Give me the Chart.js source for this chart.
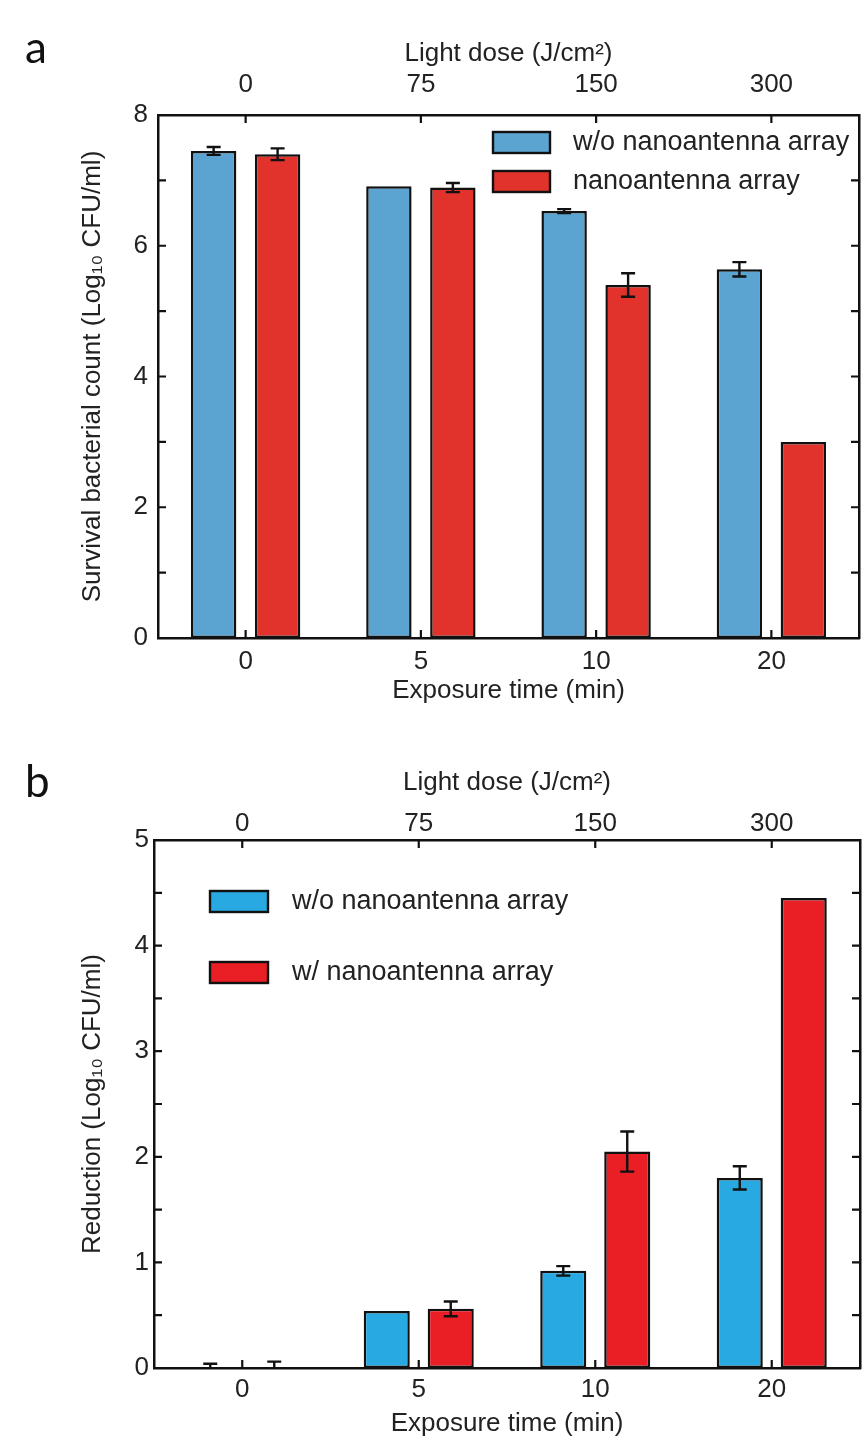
<!DOCTYPE html>
<html>
<head>
<meta charset="utf-8">
<script src="https://cdn.jsdelivr.net/npm/chart.js@4.4.1/dist/chart.umd.min.js"></script>
<style>
  html, body { margin: 0; padding: 0; background: #fff; }
  body { width: 867px; height: 1448px; position: relative; overflow: hidden; }
  .panel { position: absolute; left: 0; width: 867px; }
  #wrapA { top: 0; height: 730px; }
  #wrapB { top: 730px; height: 718px; }
  .letter { position: absolute; font-family: Lato, sans-serif; font-size: 44px; line-height: 44px; color: #111; }
</style>
</head>
<body>
<div class="panel" id="wrapA"><canvas id="chartA" width="867" height="730"></canvas></div>
<div class="panel" id="wrapB"><canvas id="chartB" width="867" height="718"></canvas></div>
<div class="letter" style="left:25px;top:24px">a</div>
<div class="letter" style="left:25px;top:758px">b</div>
<script>
const timeLabels = ['0', '5', '10', '20'];
const doseLabels = ['0', '75', '150', '300'];

// panel a: survival count
const survivalWithout = [7.45, 6.91, 6.53, 5.64];
const survivalWithoutErr = [0.06, 0, 0.03, 0.11];
const survivalWith = [7.40, 6.89, 5.40, 3.0];
const survivalWithErr = [0.09, 0.07, 0.18, 0];

// panel b: reduction
const reductionWithout = [0, 0.54, 0.92, 1.80];
const reductionWithoutErr = [0.04, 0, 0.045, 0.11];
const reductionWith = [0, 0.56, 2.05, 4.45];
const reductionWithErr = [0.06, 0.07, 0.19, 0];

const FONT = "'Liberation Sans', Arial, sans-serif";
const INK = '#111';
const TEXT = '#222';

const errorBarPlugin = {
  id: 'errorBars',
  afterDatasetsDraw(chart) {
    const {ctx, chartArea: a} = chart;
    const y = chart.scales.y;
    ctx.save();
    ctx.beginPath();
    ctx.rect(a.left, a.top, a.width, a.height);
    ctx.clip();
    ctx.strokeStyle = INK;
    ctx.lineWidth = 2.4;
    chart.data.datasets.forEach((ds, i) => {
      chart.getDatasetMeta(i).data.forEach((bar, j) => {
        const err = ds.errors[j];
        if (!err) return;
        const top = y.getPixelForValue(ds.data[j] + err);
        const bot = y.getPixelForValue(ds.data[j] - err);
        const cap = 7;
        ctx.beginPath();
        ctx.moveTo(bar.x, top); ctx.lineTo(bar.x, bot);
        ctx.moveTo(bar.x - cap, top); ctx.lineTo(bar.x + cap, top);
        ctx.moveTo(bar.x - cap, bot); ctx.lineTo(bar.x + cap, bot);
        ctx.stroke();
      });
    });
    ctx.restore();
  }
};

// tick marks pointing into the plot on all four sides
const innerTicksPlugin = {
  id: 'innerTicks',
  afterDraw(chart) {
    const {ctx, chartArea: a, scales} = chart;
    const len = 8;
    ctx.save();
    ctx.strokeStyle = INK;
    ctx.lineWidth = 2.2;
    ctx.beginPath();
    scales.y.ticks.forEach((t, i) => {
      const p = scales.y.getPixelForTick(i);
      ctx.moveTo(a.left, p); ctx.lineTo(a.left + len, p);
      ctx.moveTo(a.right, p); ctx.lineTo(a.right - len, p);
    });
    scales.x.ticks.forEach((t, i) => {
      const p = scales.x.getPixelForTick(i);
      ctx.moveTo(p, a.bottom); ctx.lineTo(p, a.bottom - len);
    });
    scales.x2.ticks.forEach((t, i) => {
      const p = scales.x2.getPixelForTick(i);
      ctx.moveTo(p, a.top); ctx.lineTo(p, a.top + len);
    });
    ctx.stroke();
    ctx.restore();
  }
};

const boxLegendPlugin = {
  id: 'boxLegend',
  afterDraw(chart, args, o) {
    const {ctx} = chart;
    ctx.save();
    chart.data.datasets.forEach((ds, i) => {
      const top = o.y + i * o.gap;
      ctx.fillStyle = ds.backgroundColor;
      ctx.fillRect(o.x, top, o.w, o.h);
      ctx.lineWidth = 2.4;
      ctx.strokeStyle = INK;
      ctx.strokeRect(o.x, top, o.w, o.h);
      ctx.fillStyle = TEXT;
      ctx.font = '27px ' + FONT;
      ctx.textBaseline = 'middle';
      ctx.fillText(ds.label, o.x + o.w + o.textGap, top + o.h / 2);
    });
    ctx.restore();
  }
};

function makeScales(c) {
  const tickFont = {family: FONT, size: 26};
  const titleFont = {family: FONT, size: 26};
  const border = {display: true, color: INK, width: 2.5};
  const grid = {display: false, drawTicks: false};
  return {
    x: {
      type: 'category', position: 'bottom', offset: true,
      grid: grid, border: border,
      ticks: {font: tickFont, color: TEXT, padding: c.bottomPad, maxRotation: 0},
      title: {display: true, text: 'Exposure time (min)', font: titleFont, color: TEXT,
              padding: {top: 0, bottom: c.bottomTitlePad}},
      afterFit: s => { s.height = c.bottomH; }
    },
    x2: {
      type: 'category', position: 'top', offset: true, labels: doseLabels,
      grid: grid, border: border,
      ticks: {font: tickFont, color: TEXT, padding: c.topPad, maxRotation: 0},
      title: {display: true, text: 'Light dose (J/cm²)', font: titleFont, color: TEXT,
              padding: {top: c.topTitlePad, bottom: 0}},
      afterFit: s => { s.height = c.topH; }
    },
    y: {
      type: 'linear', position: 'left', min: 0, max: c.yMax,
      grid: grid, border: border,
      ticks: {stepSize: c.step, font: tickFont, color: TEXT, padding: c.leftPad,
              callback: v => (Number.isInteger(v / c.labelEvery) ? v : '')},
      title: {display: true, text: c.yTitle, font: titleFont, color: TEXT,
              padding: {top: 77, bottom: 0}},
      afterFit: s => { s.width = c.leftW; }
    },
    y2: {
      type: 'linear', position: 'right', min: 0, max: c.yMax,
      grid: grid, border: border,
      ticks: {display: false, stepSize: c.step},
      afterFit: s => { s.width = c.rightW; }
    }
  };
}

new Chart(document.getElementById('chartA'), {
  type: 'bar',
  data: {
    labels: timeLabels,
    datasets: [
      {label: 'w/o nanoantenna array', data: survivalWithout, errors: survivalWithoutErr,
       backgroundColor: '#5ba3d1', borderColor: INK, borderWidth: 2.5, borderSkipped: false,
       categoryPercentage: 0.73, barPercentage: 0.71},
      {label: 'nanoantenna array', data: survivalWith, errors: survivalWithErr,
       backgroundColor: '#e1322c', borderColor: INK, borderWidth: 2.5, borderSkipped: false,
       categoryPercentage: 0.73, barPercentage: 0.71}
    ]
  },
  options: {
    responsive: false,
    animation: false,
    layout: {padding: 0},
    plugins: {
      legend: {display: false},
      tooltip: {enabled: false},
      boxLegend: {x: 493, y: 132, w: 57, h: 21, gap: 39, textGap: 23}
    },
    scales: makeScales({
      yMax: 8, step: 1, labelEvery: 2,
      yTitle: 'Survival bacterial count (Log₁₀ CFU/ml)',
      leftW: 158, rightW: 8, topH: 115, bottomH: 92,
      leftPad: 10, topPad: 15, bottomPad: 8, topTitlePad: 38, bottomTitlePad: 24
    })
  },
  plugins: [errorBarPlugin, innerTicksPlugin, boxLegendPlugin]
});

new Chart(document.getElementById('chartB'), {
  type: 'bar',
  data: {
    labels: timeLabels,
    datasets: [
      {label: 'w/o nanoantenna array', data: reductionWithout, errors: reductionWithoutErr,
       backgroundColor: '#29a9e1', borderColor: INK, borderWidth: 2.5, borderSkipped: false,
       categoryPercentage: 0.725, barPercentage: 0.72},
      {label: 'w/ nanoantenna array', data: reductionWith, errors: reductionWithErr,
       backgroundColor: '#ea1f26', borderColor: INK, borderWidth: 2.5, borderSkipped: false,
       categoryPercentage: 0.725, barPercentage: 0.72}
    ]
  },
  options: {
    responsive: false,
    animation: false,
    layout: {padding: 0},
    plugins: {
      legend: {display: false},
      tooltip: {enabled: false},
      boxLegend: {x: 210, y: 161, w: 58, h: 21, gap: 71, textGap: 24}
    },
    scales: makeScales({
      yMax: 5, step: 0.5, labelEvery: 1,
      yTitle: 'Reduction (Log₁₀ CFU/ml)',
      leftW: 154, rightW: 7, topH: 110, bottomH: 80,
      leftPad: 5, topPad: 1, bottomPad: 6, topTitlePad: 37, bottomTitlePad: 9
    })
  },
  plugins: [errorBarPlugin, innerTicksPlugin, boxLegendPlugin]
});
</script>
</body>
</html>
